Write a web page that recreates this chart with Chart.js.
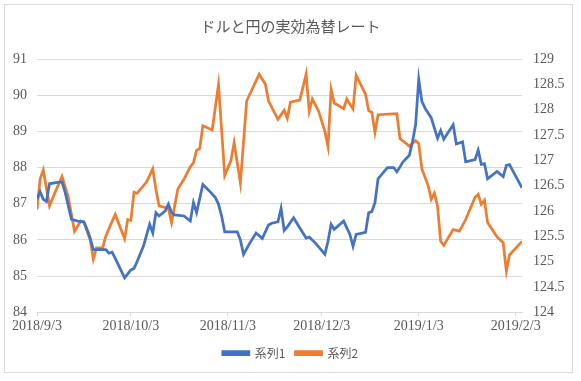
<!DOCTYPE html>
<html>
<head>
<meta charset="utf-8">
<script src="https://cdn.jsdelivr.net/npm/chart.js@4/dist/chart.umd.min.js"></script>
<style>
  html, body { margin: 0; padding: 0; background: #ffffff; }
  #wrap { position: relative; width: 581px; height: 381px; }
</style>
</head>
<body>
<div id="wrap"><canvas id="chart" width="581" height="381"></canvas></div>
<script>
// x values are days since 2018/9/3
const tickDays = [0, 30, 61, 91, 122, 153];
const tickLabels = ['2018/9/3', '2018/10/3', '2018/11/3', '2018/12/3', '2019/1/3', '2019/2/3'];

// 系列1 (left axis)
const days1 = [0, 1, 2, 3, 4, 6, 8, 9, 11, 13, 15, 16, 17, 18, 22, 23, 24, 25, 28, 30,
    31, 32, 34, 36, 37, 38, 39, 41, 42, 43, 44, 47, 49, 50, 51, 53, 55, 57, 58, 59,
    60, 64, 65, 66, 68, 70, 72, 74, 75, 77, 78, 79, 80, 82, 84, 86, 87, 89, 92, 93,
    94, 95, 98, 100, 101, 102, 105, 106, 107, 108, 109, 112, 114, 115, 117, 119, 120, 121, 122, 123,
    124, 126, 128, 129, 130, 133, 134, 136, 137, 140, 141, 142, 143, 144, 147, 149, 150, 151, 155];
const series1 = [87.13, 87.33, 87.12, 87.06, 87.55, 87.58, 87.6, 87.31, 86.57, 86.52, 86.5, 86.29, 86.05, 85.73, 85.73, 85.63, 85.66, 85.49, 84.95, 85.17,
    85.21, 85.4, 85.82, 86.43, 86.19, 86.75, 86.66, 86.8, 86.99, 86.75, 86.69, 86.66, 86.52, 87.03, 86.75, 87.53, 87.36, 87.17, 86.99, 86.66,
    86.22, 86.22, 86.0, 85.6, 85.91, 86.19, 86.04, 86.41, 86.46, 86.5, 86.87, 86.26, 86.36, 86.61, 86.33, 86.05, 86.08, 85.91, 85.6, 85.96,
    86.43, 86.29, 86.52, 86.15, 85.82, 86.15, 86.21, 86.75, 86.78, 87.03, 87.69, 88.0, 88.0, 87.88, 88.16, 88.34, 88.71, 89.18, 90.44, 89.83,
    89.64, 89.37, 88.81, 89.02, 88.78, 89.18, 88.65, 88.71, 88.16, 88.22, 88.48, 88.09, 88.11, 87.69, 87.89, 87.75, 88.06, 88.08, 87.44];

// 系列2 (right axis)
const days2 = [0, 1, 2, 4, 6, 8, 10, 12, 14, 15, 17, 18, 19, 21, 22, 23, 25, 28, 29, 30,
    31, 32, 35, 37, 38, 39, 42, 43, 45, 47, 49, 50, 51, 52, 53, 56, 58, 60, 62, 63,
    65, 67, 71, 73, 74, 77, 79, 80, 81, 84, 86, 87, 88, 90, 92, 93, 94, 95, 98, 99,
    101, 102, 105, 106, 107, 108, 109, 115, 116, 119, 121, 122, 123, 125, 126, 127, 128, 129, 130, 133,
    135, 137, 140, 141, 142, 143, 144, 147, 149, 150, 151, 155];
const series2 = [126.03, 126.63, 126.81, 126.1, 126.4, 126.68, 126.27, 125.6, 125.8, 125.77, 125.43, 125.05, 125.27, 125.27, 125.5, 125.65, 125.93, 125.45, 125.83, 125.81,
    126.37, 126.35, 126.57, 126.83, 126.43, 126.1, 126.05, 125.77, 126.43, 126.63, 126.87, 126.95, 127.2, 127.23, 127.68, 127.6, 128.5, 126.7, 127.0, 127.35,
    126.55, 128.17, 128.7, 128.5, 128.17, 127.81, 127.99, 127.83, 128.15, 128.19, 128.7, 127.97, 128.21, 127.97, 127.57, 127.27, 128.4, 128.13, 128.02, 128.21,
    128.01, 128.68, 128.3, 127.98, 127.95, 127.55, 127.9, 127.92, 127.43, 127.28, 127.39, 127.33, 126.83, 126.5, 126.23, 126.35, 126.1, 125.4, 125.32, 125.63,
    125.6, 125.83, 126.27, 126.33, 126.13, 126.21, 125.77, 125.49, 125.37, 124.81, 125.13, 125.4];

const blue = '#4472C4';
const orange = '#ED7D31';
const gridColor = '#d9d9d9';
const textColor = '#595959';

function toPoints(days, values) {
    return days.map((d, i) => ({ x: d, y: values[i] }));
}

// chart frame like the spreadsheet chart border
const framePlugin = {
    id: 'frame',
    afterDraw(chart) {
        const ctx = chart.ctx;
        ctx.save();
        ctx.strokeStyle = gridColor;
        ctx.lineWidth = 1;
        ctx.strokeRect(4.5, 4.5, 568, 368);
        ctx.restore();
    }
};

Chart.defaults.font.family = "'Liberation Serif', 'Noto Sans CJK JP', serif";
Chart.defaults.color = textColor;

new Chart(document.getElementById('chart').getContext('2d'), {
    type: 'line',
    data: {
        datasets: [
            {
                label: '系列1',
                data: toPoints(days1, series1),
                yAxisID: 'y',
                borderColor: blue,
                backgroundColor: blue,
                borderWidth: 2.75,
                pointRadius: 0,
                tension: 0
            },
            {
                label: '系列2',
                data: toPoints(days2, series2),
                yAxisID: 'y2',
                borderColor: orange,
                backgroundColor: orange,
                borderWidth: 2.75,
                pointRadius: 0,
                tension: 0
            }
        ]
    },
    options: {
        responsive: false,
        animation: false,
        layout: { padding: { left: 0, right: 0, top: 0, bottom: 12 } },
        plugins: {
            title: {
                display: true,
                text: 'ドルと円の実効為替レート',
                color: textColor,
                font: { family: "'Noto Sans CJK JP'", size: 15, weight: 'normal' },
                padding: { top: 17, bottom: 24 }
            },
            legend: {
                position: 'bottom',
                labels: {
                    boxWidth: 26,
                    boxHeight: 3,
                    padding: 10,
                    color: textColor,
                    font: { family: "'Noto Sans CJK JP'", size: 12 }
                }
            },
            tooltip: { enabled: false }
        },
        scales: {
            x: {
                type: 'linear',
                min: 0,
                max: 155,
                afterBuildTicks(scale) {
                    scale.ticks = tickDays.map(v => ({ value: v }));
                },
                ticks: {
                    autoSkip: false,
                    maxRotation: 0,
                    padding: 2,
                    font: { size: 14 },
                    callback: value => tickLabels[tickDays.indexOf(value)]
                },
                grid: { drawOnChartArea: false, drawTicks: true, tickLength: 4, color: gridColor },
                border: { color: gridColor }
            },
            y: {
                position: 'left',
                min: 84,
                max: 91,
                ticks: { stepSize: 1, padding: 10, font: { size: 14 } },
                grid: { color: gridColor, drawTicks: false },
                border: { display: false },
                afterFit(scale) { scale.width = 37; }
            },
            y2: {
                position: 'right',
                min: 124,
                max: 129,
                ticks: {
                    stepSize: 0.5,
                    padding: 11,
                    font: { size: 14 },
                    callback: value => String(Number(value.toFixed(1)))
                },
                grid: { drawOnChartArea: false, drawTicks: false },
                border: { display: false },
                afterFit(scale) { scale.width = 59; }
            }
        }
    },
    plugins: [framePlugin]
});
</script>
</body>
</html>
